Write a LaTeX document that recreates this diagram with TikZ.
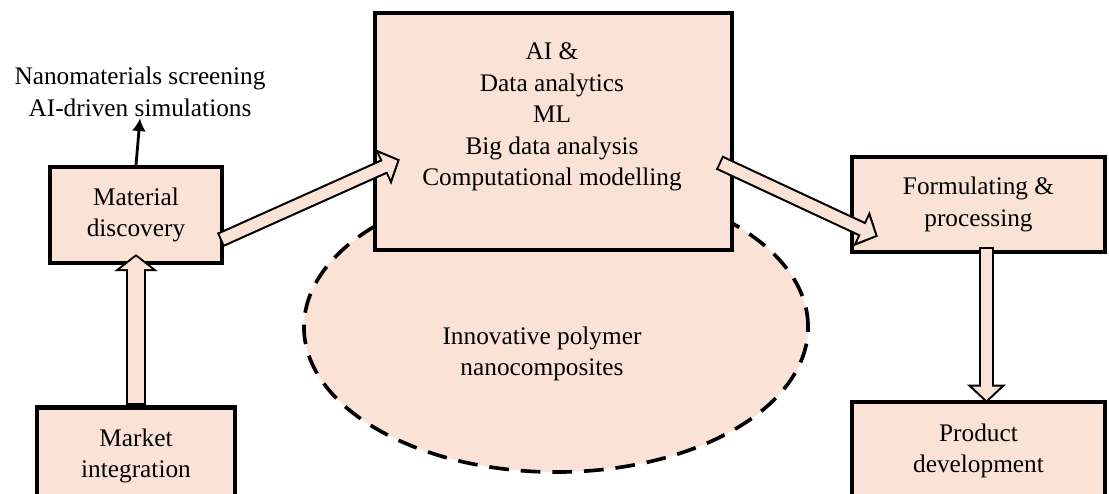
\documentclass[tikz,border=0pt]{standalone}
\usepackage{fontspec}
\setmainfont{Liberation Serif}
\usetikzlibrary{shapes,arrows.meta,calc}
\definecolor{peach}{RGB}{250,227,214}

\begin{document}
\begin{tikzpicture}[x=0.025cm,y=-0.025cm]
% styles of the nodes
\tikzstyle{box}=[rectangle,draw,line width=3pt,fill=peach,align=center,font=\fontsize{18}{22.5}\selectfont]
\tikzstyle{txt}=[align=center,font=\fontsize{18}{22.5}\selectfont]
% styles of the arrows (black outline drawn first, peach body on top)
\tikzstyle{bigarrow}=[preaction={draw=black,line width=11pt,shorten >=0pt,shorten <=0pt,-{Triangle[length=13pt,width=27pt]}},
  draw=peach,line width=8pt,shorten >=2pt,shorten <=1.4pt,-{Triangle[length=9.6pt,width=19.6pt]}]
\tikzstyle{widearrow}=[preaction={draw=black,line width=14pt,shorten >=0pt,shorten <=0pt,-{Triangle[length=12pt,width=30pt]}},
  draw=peach,line width=11pt,shorten >=1.8pt,shorten <=1.4pt,-{Triangle[length=8.8pt,width=22pt]}]
\useasboundingbox (0,0) rectangle (1109,493);
% placing the nodes
\node[ellipse,draw,fill=peach,line width=2.6pt,dash pattern=on 14pt off 8.5pt,minimum width=12.6cm,minimum height=7.25cm] (blob) at (556,327) {};
\node[txt] (blobtext) at (542,354) {Innovative polymer\\nanocomposites};
\node[box,minimum width=8.925cm,minimum height=5.925cm] (core) at (553.5,131.5) {};
\node[txt] (coretext) at (552,117) {AI \&\\Data analytics\\ML\\Big data analysis\\Computational modelling};
\node[box,minimum width=4.3cm,minimum height=2.4cm] (matdisc) at (136,215) {Material\\discovery};
\node[box,minimum width=4.95cm,minimum height=2.425cm] (market) at (136,456) {Market\\integration};
\node[box,minimum width=6.325cm,minimum height=2.375cm] (formul) at (978.5,204.5) {Formulating \&\\processing};
\node[box,minimum width=6.325cm,minimum height=2.45cm] (product) at (978.5,451) {Product\\development};
\node[txt,inner sep=1pt] (screen) at (140,92) {Nanomaterials screening\\AI-driven simulations};
% placing the arrows
\draw[line width=2pt,-{Latex[length=9pt,width=10pt]}] (matdisc.north) -- (screen.south);
\draw[widearrow] (market.north) -- ($(matdisc.south)+(0,-11)$);
\draw[bigarrow] ($(matdisc.east)+(-4,25)$) -- ($(core.west)+(27,28)$);
\draw[bigarrow] ($(core.east)+(-15,31)$) -- ($(formul.west)+(28,32)$);
\draw[bigarrow] ($(formul.south)+(8,-7)$) -- ($(product.north)+(8,3)$);
\end{tikzpicture}
\end{document}
